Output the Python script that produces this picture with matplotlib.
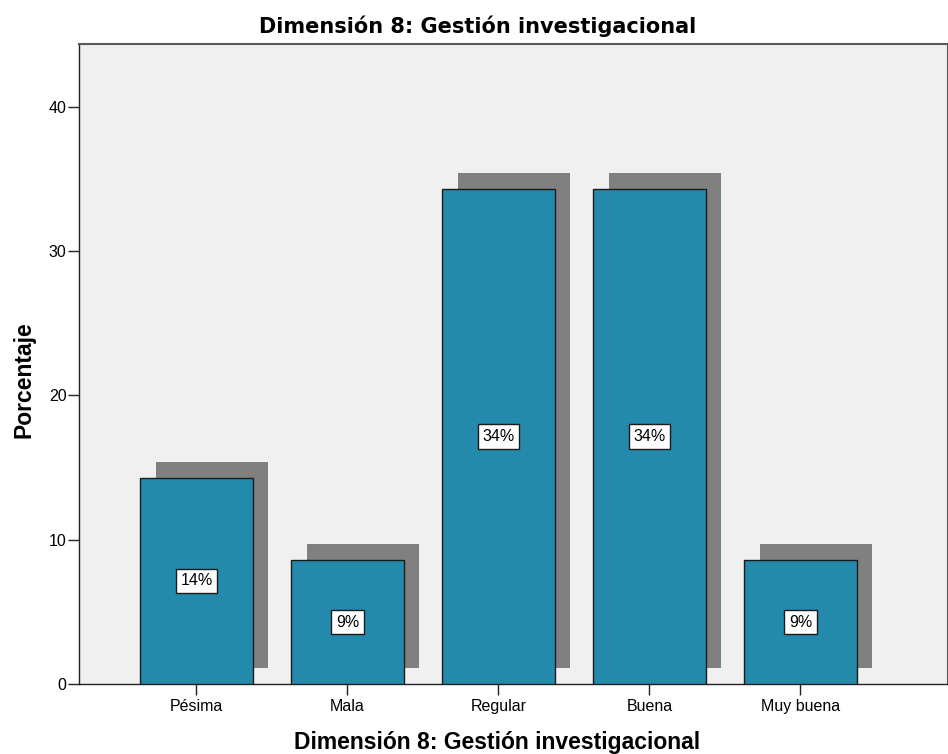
import matplotlib
matplotlib.use("Agg")
import matplotlib.pyplot as plt
from matplotlib.transforms import ScaledTranslation

plt.rcParams['font.family'] = ['Liberation Sans', 'DejaVu Sans']

categories = ["Pésima", "Mala", "Regular", "Buena", "Muy buena"]
percentages = [14.29, 8.57, 34.29, 34.29, 8.57]
labels = ["14%", "9%", "34%", "34%", "9%"]
yticks = [0, 10, 20, 30, 40]
title = "Dimensión 8: Gestión investigacional"
xlabel = "Dimensión 8: Gestión investigacional"
ylabel = "Porcentaje"

W, H = 948, 754
fig = plt.figure(figsize=(W / 100, H / 100), dpi=100)
ax = fig.add_axes([79 / W, 70 / H, 1 - 79 / W, 640 / H])
ax.set_facecolor('#F0F0F0')

x = list(range(len(categories)))
width = 0.748

# drop shadow: same bars shifted up/right by a fixed offset
shadow_tf = ax.transData + ScaledTranslation(0.155, 0.16, fig.dpi_scale_trans)
ax.bar(x, percentages, width=width, color='#808080', edgecolor='none',
       transform=shadow_tf, zorder=2)
ax.bar(x, percentages, width=width, color='#248AAB', edgecolor='#1a1a1a',
       linewidth=1.0, zorder=3)

for xi, v, lab in zip(x, percentages, labels):
    ax.text(xi, v / 2, lab, ha='center', va='center', fontsize=11.5, zorder=4,
            bbox=dict(boxstyle='square,pad=0.3', facecolor='white',
                      edgecolor='#1a1a1a', linewidth=1.0))

ax.set_xlim(-0.778, 4.977)
ax.set_ylim(0, 44.35)
ax.set_xticks(x)
ax.set_xticklabels(categories, fontsize=11.5)
ax.set_yticks(yticks)
ax.set_yticklabels([str(t) for t in yticks], fontsize=11.5)
ax.tick_params(axis='both', direction='out', length=8, width=1, color='#222222')
ax.tick_params(axis='x', pad=2.5)
ax.tick_params(axis='y', pad=1)

for s in ['left', 'bottom']:
    ax.spines[s].set_color('#222222')
    ax.spines[s].set_linewidth(1.0)
for s in ['top', 'right']:
    ax.spines[s].set_color('#5a5a5a')
    ax.spines[s].set_linewidth(1.5)

fig.text(478 / W, (H - 33) / H, title, ha='center', va='baseline',
         fontsize=15, fontweight='bold', family=['DejaVu Sans'])
fig.text(497.5 / W, (H - 749) / H, xlabel, ha='center', va='baseline',
         fontsize=16.5, fontweight='bold')
fig.text(36 / W, (H - 380) / H, ylabel, ha='right', va='center', rotation=90,
         fontsize=16.5, fontweight='bold')

fig.savefig('out.png', dpi=100, facecolor='white')
